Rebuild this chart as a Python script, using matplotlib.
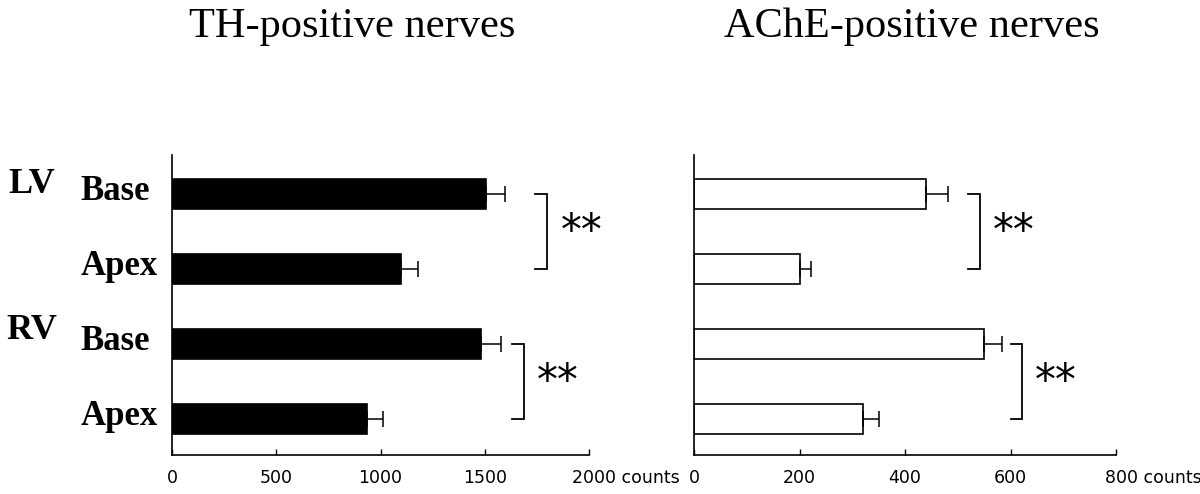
import matplotlib
matplotlib.use('Agg')
import matplotlib.pyplot as plt
from matplotlib.transforms import blended_transform_factory, ScaledTranslation

# ---- data ----
groups = ['LV', 'RV']
categories = ['Base', 'Apex', 'Base', 'Apex']
th_values = [1505, 1100, 1480, 935]
th_errors = [93, 78, 100, 75]
ache_values = [440, 200, 549, 320]
ache_errors = [41, 22, 34, 30]
th_ticks = [0, 500, 1000, 1500, 2000]
ache_ticks = [0, 200, 400, 600, 800]
unit = 'counts'
titles = ['TH-positive nerves', 'AChE-positive nerves']
# significance brackets: (bar index from, bar index to, x of bracket, arm length)
th_brackets = [(0, 1, 1800, 58), (2, 3, 1688, 57)]
ache_brackets = [(0, 1, 542, 22), (2, 3, 622, 21)]
signif = '**'

W, H = 1200, 494
fig = plt.figure(figsize=(W / 100, H / 100), dpi=100)

bottom = 1 - 455 / H
height = (455 - 155) / H
ax1 = fig.add_axes([172 / W, bottom, (589 - 172) / W, height])
ax2 = fig.add_axes([694 / W, bottom, (1116 - 694) / W, height])

ypos = list(range(len(categories)))
tick_size = 12.5


def draw(ax, values, errors, ticks, face, brackets):
    ax.barh(ypos, values, height=0.41, color=face, edgecolor='black', linewidth=1.2, zorder=2)
    ax.errorbar(values, ypos, xerr=[[0] * len(errors), errors], fmt='none', ecolor='black',
                elinewidth=1.1, capsize=5.5, capthick=1.1, zorder=3)
    ax.set_xlim(0, ticks[-1])
    ax.set_ylim(3.48, -0.52)
    ax.spines['top'].set_visible(False)
    ax.spines['right'].set_visible(False)
    for s in ('left', 'bottom'):
        ax.spines[s].set_linewidth(1.2)
    ax.set_yticks([])
    ax.set_xticks(ticks)
    labels = [str(t) for t in ticks]
    labels[-1] = labels[-1] + ' ' + unit
    tl = ax.set_xticklabels(labels, family='DejaVu Sans', size=tick_size)
    ax.tick_params(axis='x', direction='in', length=4, width=1, pad=10)
    # shift last label so that the number stays centred on its tick
    shift_pt = 0.5 * (len(unit) + 1) * 0.61 * tick_size
    last = tl[-1]
    last.set_transform(last.get_transform() + ScaledTranslation(shift_pt / 72, 0, fig.dpi_scale_trans))
    for i0, i1, xb, arm in brackets:
        ax.plot([xb - arm, xb, xb, xb - arm], [i0, i0, i1, i1], color='black', lw=1.3,
                clip_on=False, solid_joinstyle='miter')
        ax.annotate(signif, xy=(xb, (i0 + i1) / 2), xytext=(13, 0), textcoords='offset pixels',
                    ha='left', va='center', fontsize=30, family='DejaVu Sans',
                    annotation_clip=False)


draw(ax1, th_values, th_errors, th_ticks, 'black', th_brackets)
draw(ax2, ache_values, ache_errors, ache_ticks, 'white', ache_brackets)

# titles
fig.text(352 / W, 1 - 37 / H, titles[0], ha='center', va='baseline', family='Liberation Serif', fontsize=30.5)
fig.text(912 / W, 1 - 37 / H, titles[1], ha='center', va='baseline', family='Liberation Serif', fontsize=30.5)

# row labels
tr = blended_transform_factory(fig.transFigure, ax1.transData)
lab_x = [115, 119, 115, 119]
for i, c in enumerate(categories):
    ax1.text(lab_x[i] / W, i + 0.08, c, transform=tr, ha='center', va='baseline',
             family='Liberation Serif', fontweight='bold', fontsize=25)
group_y = [-0.01, 1.93]
for g, gy in zip(groups, group_y):
    ax1.text(32 / W, gy, g, transform=tr, ha='center', va='baseline',
             family='Liberation Serif', fontweight='bold', fontsize=26)

fig.savefig('out.png', dpi=100)
